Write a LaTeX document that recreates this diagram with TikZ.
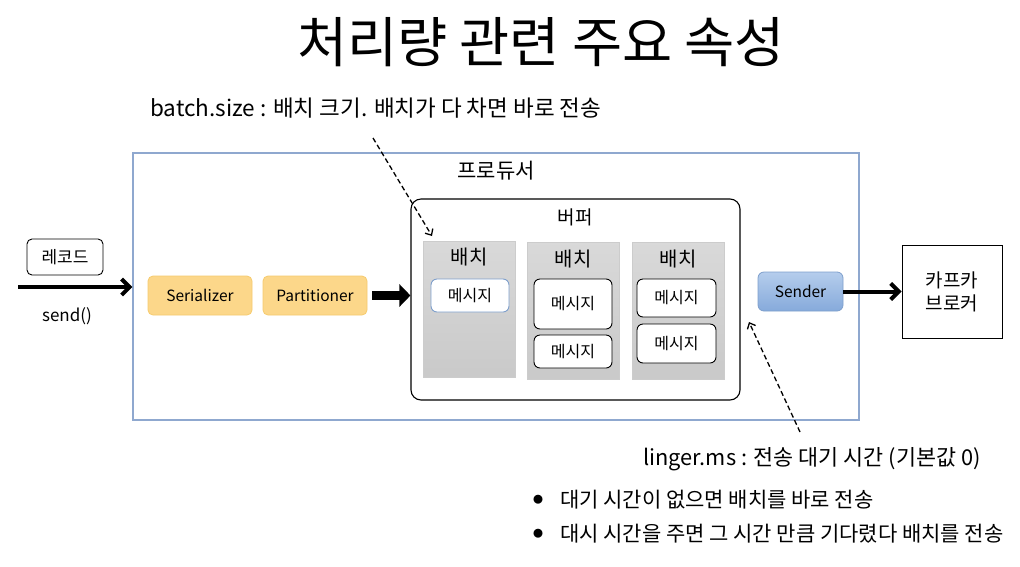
\documentclass[tikz,border=0pt]{standalone}
\usepackage{fontspec}
\setmainfont{Noto Sans CJK KR}
\usetikzlibrary{arrows.meta}
\definecolor{prodblue}{HTML}{8FA8CF}
\definecolor{orangefill}{HTML}{FCD78A}
\definecolor{orangeline}{HTML}{F6CB6E}
\definecolor{sendtop}{HTML}{B5CDEC}
\definecolor{sendbot}{HTML}{86AADB}
\definecolor{sendline}{HTML}{7E9FCC}
\tikzset{
  plain/.style={draw=black, line width=0.9pt, fill=white, rounded corners=5pt, inner sep=0pt},
  batchbox/.style={draw=gray!40, line width=0.6pt, top color=gray!30, bottom color=gray!42, inner sep=0pt},
  msg/.style={draw=black, line width=0.9pt, fill=white, rounded corners=6pt, inner sep=0pt, font=\fontsize{16}{18}\selectfont},
  orangebox/.style={draw=orangeline, line width=0.8pt, fill=orangefill, rounded corners=5pt, inner sep=0pt, minimum width=104pt, minimum height=39pt, font=\fontsize{15.5}{18}\selectfont},
  bigarrow/.style={line width=4pt, -{Straight Barb[length=8pt,width=16pt]}},
  fatarrow/.style={line width=9pt, -{Triangle[length=11pt,width=22pt]}},
  dasharrow/.style={line width=1.3pt, dash pattern=on 5pt off 3pt, -{Straight Barb[length=5pt,width=9pt]}},
  hand/.style={font=\fontsize{22.5}{26}\selectfont, anchor=west, inner sep=0pt},
  handl/.style={font=\fontsize{21.8}{26}\selectfont, anchor=west, inner sep=0pt},
  handb/.style={font=\fontsize{21}{24}\selectfont, anchor=west, inner sep=0pt},
  lbl/.style={inner sep=0pt}
}
\begin{document}
\begin{tikzpicture}[x=1pt,y=-1pt]
\useasboundingbox (0,0) rectangle (1020,566);
\fill[white] (0,0) rectangle (1020,566);
% title
\node[lbl, font=\fontsize{54.5}{58}\selectfont] (title) at (541,42) {처리량 관련 주요 속성};
% producer
\node[draw=prodblue, line width=1.2pt, minimum width=726pt, minimum height=267pt, inner sep=0pt] (prod) at (496,286.5) {};
\node[lbl, font=\fontsize{21}{24}\selectfont] (prodlbl) at (496,171) {프로듀서};
% buffer
\node[draw=black, line width=1.1pt, rounded corners=10pt, minimum width=329pt, minimum height=201pt, inner sep=0pt] (buf) at (575.5,299.5) {};
\node[lbl, font=\fontsize{19}{22}\selectfont] (buflbl) at (575,217) {버퍼};
% batches
\node[batchbox, minimum width=92pt, minimum height=136pt] (b1) at (469,309) {};
\node[batchbox, minimum width=92pt, minimum height=137pt] (b2) at (573,310.5) {};
\node[batchbox, minimum width=92pt, minimum height=137pt] (b3) at (678,310.5) {};
\node[lbl, font=\fontsize{20}{22}\selectfont] (b1l) at (469,257) {배치};
\node[lbl, font=\fontsize{20}{22}\selectfont] (b2l) at (573,259) {배치};
\node[lbl, font=\fontsize{20}{22}\selectfont] (b3l) at (678,259) {배치};
% messages
\node[msg, draw=sendline, minimum width=78pt, minimum height=33pt] (m1) at (470,295.5) {메시지};
\node[msg, minimum width=78pt, minimum height=50pt] (m2) at (573,304) {메시지};
\node[msg, minimum width=78pt, minimum height=33pt] (m3) at (573,351.5) {메시지};
\node[msg, minimum width=79pt, minimum height=38pt] (m4) at (676.5,298) {메시지};
\node[msg, minimum width=79pt, minimum height=39pt] (m5) at (676.5,343.5) {메시지};
% record
\node[plain, minimum width=76pt, minimum height=36pt, font=\fontsize{17}{20}\selectfont] (rec) at (65,257) {레코드};
\coordinate (start) at (18,287);
\draw[bigarrow] (start) -- (prod.west |- start);
\node[lbl, font=\fontsize{17}{20}\selectfont] (send) at (67,316) {send()};
% serializer, partitioner
\node[orangebox] (ser) at (200,295.5) {Serializer};
\node[orangebox] (par) at (315,295.5) {Partitioner};
\coordinate (fa) at (372,295.5);
\draw[fatarrow] (fa) -- (fa -| buf.west);
% sender
\node[draw=sendline, line width=0.8pt, top color=sendtop, bottom color=sendbot, rounded corners=6pt, minimum width=85pt, minimum height=39pt, inner sep=0pt, font=\fontsize{15.5}{18}\selectfont] (sender) at (800.5,291.5) {Sender};
% broker
\node[draw=black, line width=1pt, minimum width=100pt, minimum height=93pt, inner sep=0pt, align=center, font=\fontsize{19}{23}\selectfont] (broker) at (952,291.5) {카프카\\브로커};
\draw[bigarrow] (sender.east) -- (broker.west |- sender.east);
% annotations
\node[hand] (bs) at (150,108) {batch.size : 배치 크기. 배치가 다 차면 바로 전송};
\coordinate (bsfrom) at (373,138);
\coordinate (bsto) at (432,236);
\draw[dasharrow] (bsfrom) -- (bsto);
\node[handl] (lg) at (643,459) {linger.ms : 전송 대기 시간 (기본값 0)};
\coordinate (lgfrom) at (800,432);
\coordinate (lgto) at (749,322);
\draw[dasharrow] (lgfrom) -- (lgto);
\node[lbl, font=\fontsize{10}{12}\selectfont] (bul1) at (538,500) {●};
\node[handb] (t1) at (560,500) {대기 시간이 없으면 배치를 바로 전송};
\node[lbl, font=\fontsize{10}{12}\selectfont] (bul2) at (538,534) {●};
\node[handb] (t2) at (560,534) {대시 시간을 주면 그 시간 만큼 기다렸다 배치를 전송};
\end{tikzpicture}
\end{document}
